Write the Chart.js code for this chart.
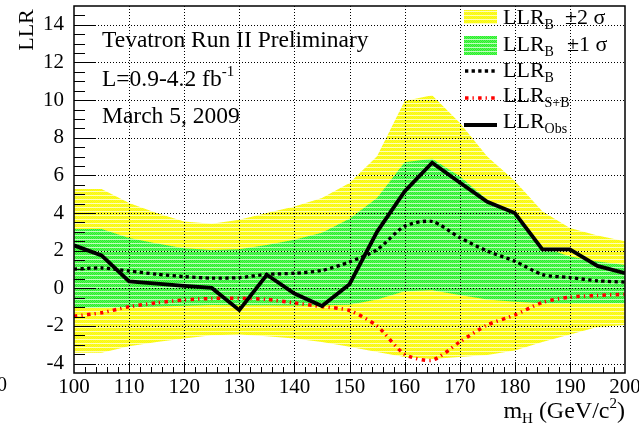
<!DOCTYPE html>
<html>
<head>
<meta charset="utf-8">
<script src="https://cdn.jsdelivr.net/npm/chart.js@4.4.1/dist/chart.umd.min.js"></script>
<style>
  html, body { margin: 0; padding: 0; background: #fff; }
  canvas { display: block; }
</style>
</head>
<body>
<canvas id="llr" width="639" height="428"></canvas>
<script>
// Higgs mass points (GeV/c^2)
const massH = [100, 105, 110, 115, 120, 125, 130, 135, 140, 145, 150,
               155, 160, 165, 170, 175, 180, 185, 190, 195, 200];

// Observed log-likelihood ratio
const llrObs = [2.28, 1.75, 0.37, 0.25, 0.13, 0.02, -1.16, 0.72, -0.28, -0.94, 0.22,
                3.0, 5.15, 6.67, 5.62, 4.6, 4.0, 2.07, 2.07, 1.19, 0.8];

// Expected LLR, background-only hypothesis
const llrB = [1.02, 1.08, 0.92, 0.75, 0.62, 0.54, 0.57, 0.74, 0.8, 0.95, 1.4,
              2.05, 3.3, 3.55, 2.7, 1.98, 1.44, 0.73, 0.57, 0.4, 0.33];

// Expected LLR, signal-plus-background hypothesis
const llrSB = [-1.48, -1.3, -0.98, -0.77, -0.62, -0.54, -0.53, -0.59, -0.78, -0.97, -1.18,
               -2.0, -3.5, -3.82, -2.85, -1.95, -1.42, -0.75, -0.47, -0.38, -0.32];

// LLR_B +/- 1 sigma band
const band1Hi = [3.15, 3.15, 2.67, 2.38, 2.13, 2.04, 2.07, 2.3, 2.58, 2.95, 3.7,
                 4.8, 6.7, 6.88, 5.95, 4.71, 3.91, 2.2, 1.69, 1.42, 1.24];
const band1Lo = [-1.05, -1.03, -1.0, -0.97, -0.93, -0.89, -0.9, -0.9, -0.92, -0.9, -0.87,
                 -0.6, -0.15, -0.1, -0.35, -0.6, -0.72, -0.8, -0.8, -0.8, -0.8];

// LLR_B +/- 2 sigma band
const band2Hi = [5.28, 5.28, 4.53, 4.0, 3.55, 3.43, 3.64, 4.0, 4.35, 4.8, 5.6,
                 7.02, 9.95, 10.26, 8.8, 7.0, 5.7, 4.1, 3.2, 2.8, 2.5];
const band2Lo = [-3.43, -3.43, -3.08, -2.85, -2.67, -2.49, -2.45, -2.55, -2.67, -2.85, -3.11,
                 -3.38, -3.65, -3.75, -3.65, -3.55, -3.3, -2.85, -2.45, -2.05, -1.95];

// Axis ranges and tick steps
const xRange = [100, 200];
const yRange = [-4.5, 15];
const xMajorStep = 10, xMinorStep = 2;
const yMajorStep = 2, yMinorStep = 0.5;

const SERIF = '"Liberation Serif", "Times New Roman", serif';
const canvas = document.getElementById('llr');
const ctx = canvas.getContext('2d');

// Textured band fills
function makePattern(base, alt, stripe) {
  const p = document.createElement('canvas');
  p.width = 4; p.height = 4;
  const g = p.getContext('2d');
  for (let y = 0; y < 4; y++) {
    for (let x = 0; x < 4; x++) {
      g.fillStyle = (y === 3) ? stripe : (((x + y) % 2) ? alt : base);
      g.fillRect(x, y, 1, 1);
    }
  }
  return ctx.createPattern(p, 'repeat');
}
const yellowFill = makePattern('#ffff00', '#f4f43a', '#ffffb8');
const greenFill = makePattern('#2aef2a', '#5cf65c', '#c0ffc0');

const pts = arr => massH.map((m, i) => ({ x: m, y: arr[i] }));

const dashB = [3.3, 3.3];
const dashSB = [3.5, 4, 1.3, 4.3];

function richText(c, x, y, parts) {
  let cx = x;
  for (const p of parts) {
    c.font = p.size + 'px ' + SERIF;
    c.fillText(p.t, cx, y + (p.dy || 0));
    cx += c.measureText(p.t).width + (p.gap || 0);
  }
  return cx;
}
function richWidth(c, parts) {
  let w = 0;
  for (const p of parts) {
    c.font = p.size + 'px ' + SERIF;
    w += c.measureText(p.t).width + (p.gap || 0);
  }
  return w;
}

const decor = {
  id: 'decor',
  beforeDatasetDraw(chart, args) {
    if (args.index !== 2) return;
    // dotted grid over the bands, under the curves
    const c = chart.ctx, a = chart.chartArea;
    const xs = chart.scales.x, ys = chart.scales.y;
    c.save();
    c.strokeStyle = '#000';
    c.lineWidth = 1;
    c.setLineDash([1, 2]);
    for (let m = xRange[0] + xMajorStep; m < xRange[1]; m += xMajorStep) {
      const px = Math.round(xs.getPixelForValue(m)) + 0.5;
      c.beginPath(); c.moveTo(px, a.top); c.lineTo(px, a.bottom); c.stroke();
    }
    for (let v = -4; v < yRange[1]; v += yMajorStep) {
      const py = Math.round(ys.getPixelForValue(v)) + 0.5;
      c.beginPath(); c.moveTo(a.left, py); c.lineTo(a.right, py); c.stroke();
    }
    c.restore();
  },
  afterDraw(chart) {
    const c = chart.ctx, a = chart.chartArea;
    const xs = chart.scales.x, ys = chart.scales.y;
    c.save();
    // tick marks inside the frame
    c.strokeStyle = '#000';
    c.lineWidth = 1;
    c.beginPath();
    for (let v = yRange[0] + yMinorStep; v < yRange[1] - 1e-6; v += yMinorStep) {
      const major = Math.abs(v / yMajorStep - Math.round(v / yMajorStep)) < 1e-6;
      const py = Math.round(ys.getPixelForValue(v)) + 0.5;
      c.moveTo(a.left, py); c.lineTo(a.left + (major ? 22 : 11), py);
    }
    for (let m = xRange[0] + xMinorStep; m < xRange[1]; m += xMinorStep) {
      const major = m % xMajorStep === 0;
      const px = Math.round(xs.getPixelForValue(m)) + 0.5;
      c.moveTo(px, a.bottom); c.lineTo(px, a.bottom - (major ? 11 : 6));
    }
    c.stroke();
    // frame
    c.lineWidth = 1.5;
    c.strokeRect(a.left, a.top, a.right - a.left, a.bottom - a.top);

    c.fillStyle = '#000';
    c.textBaseline = 'alphabetic';
    c.textAlign = 'left';

    // y-axis title
    c.save();
    c.translate(33, 30);
    c.rotate(-Math.PI / 2);
    c.textAlign = 'center';
    c.font = '22px ' + SERIF;
    c.fillText('LLR', 0, 0);
    c.restore();

    // x-axis title
    const xt = [
      { t: 'm', size: 24 }, { t: 'H', size: 15, dy: 5 },
      { t: ' (GeV/c', size: 24 }, { t: '2', size: 15, dy: -10 }, { t: ')', size: 24 }
    ];
    richText(c, a.right - richWidth(c, xt), 418, xt);

    // stray label at the lower left
    c.font = '20px ' + SERIF;
    c.fillText('0', -3, 391);

    // annotations
    c.font = '23.5px ' + SERIF;
    c.fillText('Tevatron Run II Preliminary', 102, 47);
    richText(c, 102, 86, [{ t: 'L=0.9-4.2 fb', size: 23.5 }, { t: '-1', size: 15, dy: -10 }]);
    c.font = '23.5px ' + SERIF;
    c.fillText('March 5, 2009', 102, 123);

    // legend
    const lx = 464, lw = 33, tx = 503;
    c.fillStyle = yellowFill; c.fillRect(lx, 10, lw, 14);
    c.fillStyle = greenFill; c.fillRect(lx, 36, lw, 19);
    c.strokeStyle = '#000'; c.lineWidth = 3.3; c.setLineDash(dashB);
    c.beginPath(); c.moveTo(lx + 1, 71); c.lineTo(lx + lw, 71); c.stroke();
    c.strokeStyle = '#f00'; c.lineWidth = 3.5; c.setLineDash(dashSB);
    c.beginPath(); c.moveTo(lx + 1, 98); c.lineTo(lx + lw, 98); c.stroke();
    c.strokeStyle = '#000'; c.lineWidth = 4; c.setLineDash([]);
    c.beginPath(); c.moveTo(lx, 125); c.lineTo(lx + lw, 125); c.stroke();

    c.fillStyle = '#000';
    richText(c, tx, 24, [{ t: 'LLR', size: 22 }, { t: 'B', size: 14, dy: 5, gap: 11 }, { t: '\u00b12 \u03c3', size: 22 }]);
    richText(c, tx, 51, [{ t: 'LLR', size: 22 }, { t: 'B', size: 14, dy: 5, gap: 13 }, { t: '\u00b11 \u03c3', size: 22 }]);
    richText(c, tx, 77, [{ t: 'LLR', size: 22 }, { t: 'B', size: 14, dy: 5 }]);
    richText(c, tx, 102, [{ t: 'LLR', size: 22 }, { t: 'S+B', size: 14, dy: 5 }]);
    richText(c, tx, 128, [{ t: 'LLR', size: 22 }, { t: 'Obs', size: 14, dy: 5 }]);
    c.restore();
  }
};

new Chart(ctx, {
  type: 'line',
  data: {
    datasets: [
      { label: 'LLR Obs', data: pts(llrObs), borderColor: '#000', borderWidth: 3.8,
        pointRadius: 0, fill: false, tension: 0 },
      { label: 'LLR S+B', data: pts(llrSB), borderColor: '#ff0000', borderWidth: 3.5,
        borderDash: dashSB, borderCapStyle: 'butt', pointRadius: 0, fill: false, tension: 0.25 },
      { label: 'LLR B', data: pts(llrB), borderColor: '#000', borderWidth: 3.3,
        borderDash: dashB, borderCapStyle: 'butt', pointRadius: 0, fill: false, tension: 0.25 },
      { label: 'LLR B +1 sigma', data: pts(band1Hi), borderWidth: 0, pointRadius: 0,
        backgroundColor: greenFill, fill: '+1', tension: 0 },
      { label: 'LLR B -1 sigma', data: pts(band1Lo), borderWidth: 0, pointRadius: 0,
        fill: false, tension: 0 },
      { label: 'LLR B +2 sigma', data: pts(band2Hi), borderWidth: 0, pointRadius: 0,
        backgroundColor: yellowFill, fill: '+1', tension: 0 },
      { label: 'LLR B -2 sigma', data: pts(band2Lo), borderWidth: 0, pointRadius: 0,
        fill: false, tension: 0 }
    ]
  },
  options: {
    responsive: false,
    animation: false,
    devicePixelRatio: 1,
    layout: { padding: { left: 0, right: 14, top: 6, bottom: 0 } },
    plugins: { legend: { display: false }, tooltip: { enabled: false } },
    scales: {
      x: {
        type: 'linear', min: xRange[0], max: xRange[1],
        grid: { display: false }, border: { display: false },
        ticks: {
          stepSize: xMajorStep, color: '#000', padding: -6, maxRotation: 0,
          font: { family: SERIF, size: 21 }
        },
        afterFit(s) { s.height = 55; s.paddingLeft = 0; s.paddingRight = 0; }
      },
      y: {
        type: 'linear', min: yRange[0], max: yRange[1],
        grid: { display: false }, border: { display: false },
        ticks: {
          stepSize: yMajorStep, includeBounds: false, color: '#000', padding: 2,
          font: { family: SERIF, size: 21 },
          callback: v => (Math.abs(v % 2) < 1e-9 ? String(v) : '')
        },
        afterFit(s) { s.width = 74; s.paddingTop = 0; s.paddingBottom = 0; }
      }
    }
  },
  plugins: [decor]
});
</script>
</body>
</html>
